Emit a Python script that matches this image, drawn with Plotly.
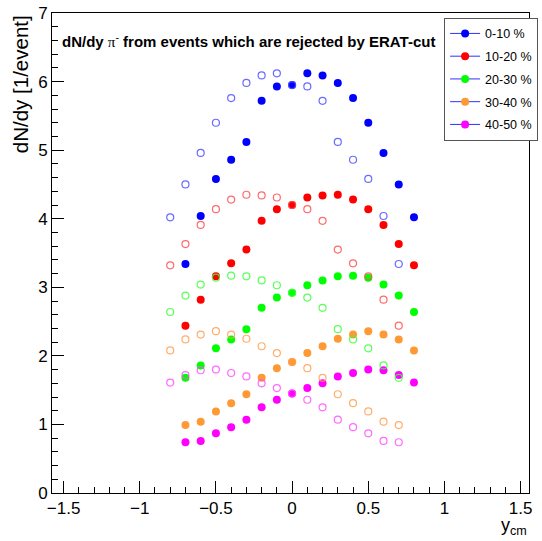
import plotly.graph_objects as go

# Filled markers: measured points
y_meas = [-0.7, -0.6, -0.5, -0.4, -0.3, -0.2, -0.1, 0.0, 0.1, 0.2, 0.3, 0.4, 0.5, 0.6, 0.7, 0.8]
# Open markers: reflected points
y_refl = [-0.8, -0.7, -0.6, -0.5, -0.4, -0.3, -0.2, -0.1, 0.0, 0.1, 0.2, 0.3, 0.4, 0.5, 0.6, 0.7]

labels = ["0-10 %", "10-20 %", "20-30 %", "30-40 %", "40-50 %"]
colors = ["#0000ff", "#ff0000", "#00ff00", "#ff9933", "#ff00ff"]
open_colors = ["rgba(80,80,255,0.85)", "rgba(255,80,80,0.85)", "rgba(60,255,60,0.85)",
               "rgba(255,160,80,0.85)", "rgba(255,80,255,0.85)"]

meas_0_10 = [3.34, 4.04, 4.58, 4.86, 5.12, 5.72, 5.93, 5.95, 6.12, 6.09, 5.98, 5.76, 5.40, 4.96, 4.50, 4.02]
meas_10_20 = [2.44, 2.82, 3.16, 3.35, 3.55, 3.97, 4.14, 4.20, 4.31, 4.34, 4.35, 4.28, 4.14, 3.91, 3.63, 3.32]
meas_20_30 = [1.68, 1.86, 2.11, 2.24, 2.39, 2.70, 2.85, 2.92, 3.03, 3.10, 3.16, 3.17, 3.14, 3.04, 2.88, 2.64]
meas_30_40 = [0.99, 1.04, 1.19, 1.31, 1.44, 1.68, 1.82, 1.91, 2.04, 2.14, 2.25, 2.31, 2.36, 2.31, 2.24, 2.08]
meas_40_50 = [0.74, 0.76, 0.87, 0.96, 1.07, 1.25, 1.36, 1.45, 1.53, 1.60, 1.70, 1.75, 1.80, 1.79, 1.72, 1.61]

refl_0_10 = [4.02, 4.50, 4.96, 5.40, 5.76, 5.98, 6.09, 6.12, 5.95, 5.93, 5.72, 5.12, 4.86, 4.58, 4.04, 3.34]
refl_10_20 = [3.32, 3.63, 3.91, 4.14, 4.28, 4.35, 4.34, 4.31, 4.20, 4.14, 3.97, 3.55, 3.35, 3.16, 2.82, 2.44]
refl_20_30 = [2.64, 2.88, 3.04, 3.14, 3.17, 3.16, 3.10, 3.03, 2.92, 2.85, 2.70, 2.39, 2.24, 2.11, 1.86, 1.68]
refl_30_40 = [2.08, 2.24, 2.31, 2.36, 2.31, 2.25, 2.14, 2.04, 1.91, 1.82, 1.68, 1.44, 1.31, 1.19, 1.04, 0.99]
refl_40_50 = [1.61, 1.72, 1.79, 1.80, 1.75, 1.70, 1.60, 1.53, 1.45, 1.36, 1.25, 1.07, 0.96, 0.87, 0.76, 0.74]

meas = [meas_0_10, meas_10_20, meas_20_30, meas_30_40, meas_40_50]
refl = [refl_0_10, refl_10_20, refl_20_30, refl_30_40, refl_40_50]

x_ticks = [-1.5, -1, -0.5, 0, 0.5, 1, 1.5]
y_ticks = [0, 1, 2, 3, 4, 5, 6, 7]

fig = go.Figure()

for i in range(5):
    fig.add_trace(go.Scatter(
        x=y_meas, y=meas[i], mode="markers", name=labels[i],
        legendgroup=labels[i], showlegend=False,
        marker=dict(symbol="circle", size=8, color=colors[i], line=dict(width=0)),
    ))
for i in range(5):
    fig.add_trace(go.Scatter(
        x=y_refl, y=refl[i], mode="markers", name=labels[i],
        legendgroup=labels[i], showlegend=False,
        marker=dict(symbol="circle-open", size=7, color=open_colors[i], line=dict(width=1.2)),
    ))
# legend entries
for i in range(5):
    fig.add_trace(go.Scatter(
        x=[None], y=[None], mode="lines+markers", name=labels[i],
        legendgroup=labels[i], showlegend=True,
        line=dict(color="#3030ff", width=1),
        marker=dict(symbol="circle", size=8, color=colors[i]),
    ))

font = "Liberation Sans, Arial, sans-serif"

fig.update_layout(
    width=542, height=541,
    margin=dict(l=52, r=4, t=9, b=48),
    paper_bgcolor="white", plot_bgcolor="white",
    font=dict(family=font, color="black"),
    showlegend=True,
    legend=dict(
        x=0.822, y=0.99, xanchor="left", yanchor="top",
        bgcolor="white", bordercolor="#555555", borderwidth=1,
        font=dict(size=12.5, family=font),
        tracegroupgap=3.5, itemwidth=30,
    ),
    xaxis=dict(
        range=[-1.576, 1.555], tickmode="array", tickvals=x_ticks,
        ticktext=["\u22121.5", "\u22121", "\u22120.5", "0", "0.5", "1", "1.5"],
        ticks="inside", ticklen=12, tickwidth=1, tickcolor="black",
        minor=dict(dtick=0.1, tick0=0, ticks="inside", ticklen=6, tickcolor="black"),
        showgrid=False, zeroline=False, showline=True, linecolor="black", linewidth=1,
        mirror=True, tickfont=dict(size=17, family=font), ticklabeloverflow="allow",
    ),
    yaxis=dict(
        range=[0, 7.0005], tickmode="array", tickvals=y_ticks,
        ticks="inside", ticklen=12, tickwidth=1, tickcolor="black",
        minor=dict(dtick=0.2, tick0=0, ticks="inside", ticklen=6, tickcolor="black"),
        showgrid=False, zeroline=False, showline=True, linecolor="black", linewidth=1,
        mirror=True, tickfont=dict(size=17, family=font), ticklabeloverflow="allow",
    ),
    annotations=[
        dict(text="<b>dN/dy </b><span style='font-family:Liberation Serif,serif'>\u03c0</span><sup>-</sup><b> from events which are rejected by ERAT-cut</b>",
             xref="paper", yref="paper", x=0.017, y=0.942, xanchor="left", yanchor="middle",
             showarrow=False, font=dict(size=15, family=font)),
        dict(text="dN/dy [1/event]", textangle=-90,
             xref="paper", yref="paper", x=-0.095, y=1.0, xanchor="left", yanchor="top",
             showarrow=False, font=dict(size=20.5, family=font)),
        dict(text="y<sub>cm</sub>", xref="paper", yref="paper", x=1.0, y=-0.042,
             xanchor="right", yanchor="top", showarrow=False, font=dict(size=18, family=font)),
    ],
)

fig.write_html("out.html")
